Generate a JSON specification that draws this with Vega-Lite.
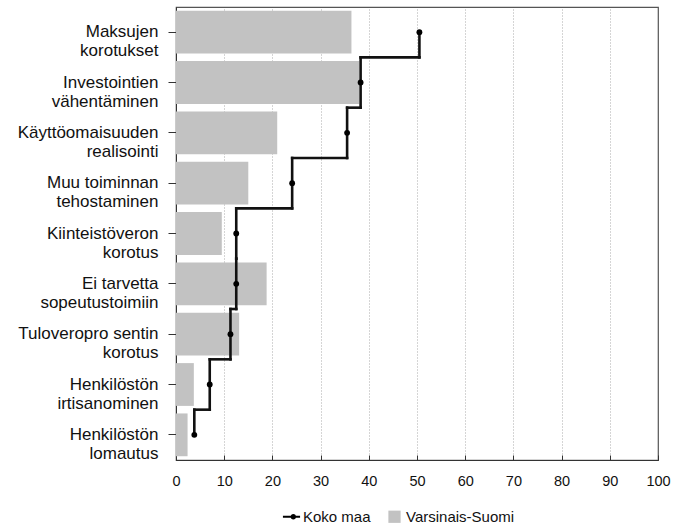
{
  "$schema": "https://vega.github.io/schema/vega-lite/v6.json",
  "width": 482,
  "height": 453,
  "autosize": {"type": "none"},
  "padding": {"left": 176, "top": 7, "right": 27, "bottom": 71},
  "background": "white",
  "config": {
    "view": {"stroke": "#555555", "strokeWidth": 1.2},
    "font": "Liberation Sans"
  },
  "data": {
    "values": [
      {"order": 1, "cat": "Maksujen\nkorotukset", "vs": 36.4, "koko": 50.5},
      {"order": 2, "cat": "Investointien\nvähentäminen", "vs": 38.0, "koko": 38.3},
      {"order": 3, "cat": "Käyttöomaisuuden\nrealisointi", "vs": 21.0, "koko": 35.5},
      {"order": 4, "cat": "Muu toiminnan\ntehostaminen", "vs": 15.0, "koko": 24.1},
      {"order": 5, "cat": "Kiinteistöveron\nkorotus", "vs": 9.5, "koko": 12.5},
      {"order": 6, "cat": "Ei tarvetta\nsopeutustoimiin", "vs": 18.8, "koko": 12.5},
      {"order": 7, "cat": "Tuloveropro sentin\nkorotus", "vs": 13.1, "koko": 11.3},
      {"order": 8, "cat": "Henkilöstön\nirtisanominen", "vs": 3.7, "koko": 7.0},
      {"order": 9, "cat": "Henkilöstön\nlomautus", "vs": 2.4, "koko": 3.8}
    ]
  },
  "layer": [
    {
      "mark": {"type": "bar"},
      "encoding": {
        "y": {
          "field": "cat", "type": "nominal", "sort": null,
          "scale": {"paddingInner": 0.15, "paddingOuter": 0.075},
          "axis": {
            "title": null,
            "labelExpr": "split(datum.label, '\\n')",
            "labelFontSize": 17,
            "labelLineHeight": 19,
            "labelColor": "#111111",
            "labelFont": "Liberation Sans",
            "labelLimit": 300,
            "tickSize": 8,
            "tickColor": "#333333",
            "domainColor": "#333333",
            "labelPadding": 10,
            "grid": false
          }
        },
        "x": {
          "field": "vs", "type": "quantitative",
          "scale": {"domain": [0, 100], "nice": false},
          "axis": {
            "title": null,
            "values": [0, 5, 10, 15, 20, 25, 30, 35, 40, 45, 50, 55, 60, 65, 70, 75, 80, 85, 90, 95, 100],
            "labelExpr": "datum.value % 10 === 0 ? datum.label : ''",
            "labelFontSize": 14.5,
            "labelColor": "#111111",
            "labelFont": "Liberation Sans",
            "labelFlush": false,
            "labelOverlap": false,
            "tickSize": -5,
            "tickColor": "#333333",
            "domainColor": "#333333",
            "labelPadding": 19,
            "grid": true,
            "gridDash": [1, 2],
            "gridColor": "#aaaaaa",
            "gridOpacity": {"condition": {"test": "datum.value % 10 === 0 && datum.value > 0 && datum.value < 100", "value": 1}, "value": 0}
          }
        },
        "color": {
          "datum": "Varsinais-Suomi",
          "scale": {"domain": ["Koko maa", "Varsinais-Suomi"], "range": ["#000000", "#c2c2c2"]},
          "legend": {
            "title": null,
            "orient": "none",
            "direction": "horizontal",
            "legendX": 108,
            "legendY": 502,
            "labelFontSize": 15,
            "labelFont": "Liberation Sans",
            "labelColor": "#111111",
            "symbolSize": 150,
            "columnPadding": 16,
            "labelOffset": 4,
            "symbolStrokeWidth": 0,
            "symbolOpacity": 1,
            "encode": {
              "symbols": {
                "update": {
                  "shape": {"signal": "datum.value === 'Koko maa' ? 'M-1.4,-0.18L1.4,-0.18L1.4,0.18L-1.4,0.18Z M0.75,0A0.45,0.45 0 1,1 -0.15,0A0.45,0.45 0 1,1 0.75,0Z' : 'square'"}
                }
              }
            }
          }
        }
      }
    },
    {
      "transform": [{"filter": "datum.order > 1"}],
      "mark": {"type": "rule", "color": "#111111", "strokeWidth": 2.6, "strokeCap": "square"},
      "encoding": {
        "x": {"field": "koko", "type": "quantitative"},
        "y": {"field": "cat", "type": "nominal", "sort": null, "bandPosition": -0.0882},
        "y2": {"field": "cat", "bandPosition": 0.5}
      }
    },
    {
      "transform": [{"filter": "datum.order < 9"}],
      "mark": {"type": "rule", "color": "#111111", "strokeWidth": 2.6, "strokeCap": "square"},
      "encoding": {
        "x": {"field": "koko", "type": "quantitative"},
        "y": {"field": "cat", "type": "nominal", "sort": null, "bandPosition": 0.5},
        "y2": {"field": "cat", "bandPosition": 1.0882}
      }
    },
    {
      "transform": [
        {"window": [{"op": "lead", "field": "koko", "as": "next"}], "sort": [{"field": "order"}]},
        {"filter": "datum.next != null"}
      ],
      "mark": {"type": "rule", "color": "#111111", "strokeWidth": 2.6, "strokeCap": "square"},
      "encoding": {
        "x": {"field": "koko", "type": "quantitative"},
        "x2": {"field": "next"},
        "y": {"field": "cat", "type": "nominal", "sort": null, "bandPosition": 1.0882}
      }
    },
    {
      "mark": {"type": "circle", "size": 34, "opacity": 1},
      "encoding": {
        "x": {"field": "koko", "type": "quantitative"},
        "y": {"field": "cat", "type": "nominal", "sort": null},
        "color": {"datum": "Koko maa"}
      }
    }
  ]
}
